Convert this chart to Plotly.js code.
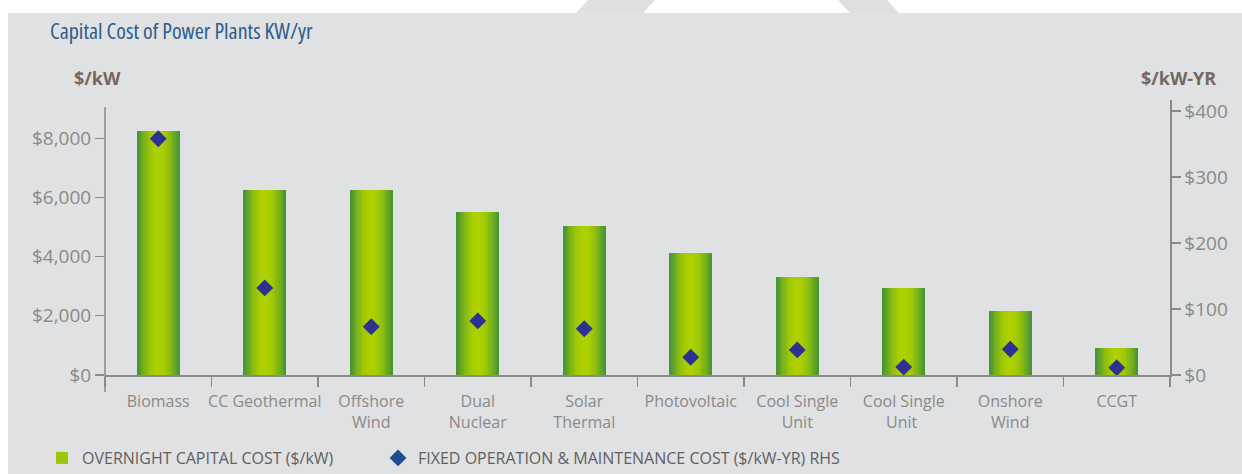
<!DOCTYPE html>
<html>
<head>
<meta charset="utf-8">
<script src="https://cdn.plot.ly/plotly-3.0.1.min.js"></script>
<style>
  html, body { margin: 0; padding: 0; background: #ffffff; width: 1242px; height: 474px; overflow: hidden; }
  #deco { position: absolute; left: 0; top: 0; }
  #chart { position: absolute; left: 8px; top: 13px; width: 1234px; height: 461px; }
  #chart .gtitle { font-stretch: 75% !important; }
</style>
</head>
<body>
<svg id="deco" width="1242" height="14">
  <polygon points="576,13 588,0 655,0 643,13" fill="#dedfe1"/>
  <polygon points="850,13 838,0 887,0 899,13" fill="#dedfe1"/>
</svg>
<div id="chart"></div>
<script>
// ---- data ----
const categories = ["Biomass", "CC Geothermal", "Offshore<br>Wind", "Dual<br>Nuclear", "Solar<br>Thermal",
                    "Photovoltaic", "Cool Single<br>Unit", "Cool Single<br>Unit ", "Onshore<br>Wind", "CCGT"];
const capitalCost = [8240, 6250, 6250, 5500, 5020, 4130, 3310, 2950, 2160, 910];   // $/kW (LHS)
const fixedOM     = [358, 132, 73, 82, 70, 27, 38, 12, 39, 11];                     // $/kW-yr (RHS)
const leftTicks  = [0, 2000, 4000, 6000, 8000];
const rightTicks = [0, 100, 200, 300, 400];
const seriesNames = ["OVERNIGHT CAPITAL COST ($/kW)", "FIXED OPERATION &amp; MAINTENANCE COST ($/kW-YR) RHS"];

// ---- layout geometry (pixels inside the chart div) ----
const W = 1234, H = 461;
const M = { l: 97, r: 72, t: 87, b: 99, autoexpand: false };
const plotW = W - M.l - M.r, plotH = H - M.t - M.b;
const px = x => (x - M.l) / plotW;       // pixel -> paper x
const py = y => (H - M.b - y) / plotH;   // pixel -> paper y

// horizontal gradient on bars, built from overlaid bars of decreasing width
const edge = [72, 150, 50], center = [172, 208, 0];
const N = 12, fullWidth = 0.40;
const traces = [];
for (let i = 0; i < N; i++) {
  const t = i / (N - 1);
  const e = Math.sin(t * Math.PI / 2);
  const c = edge.map((v, k) => Math.round(v + (center[k] - v) * e));
  traces.push({
    type: 'bar',
    x: categories,
    y: capitalCost,
    width: fullWidth * (1 - i / N),
    marker: { color: `rgb(${c[0]},${c[1]},${c[2]})`, line: { width: 0 } },
    name: seriesNames[0],
    showlegend: i === Math.round(N * 0.6),
    legend: 'legend',
    hoverinfo: 'skip',
    yaxis: 'y'
  });
}
traces.push({
  type: 'scatter',
  mode: 'markers',
  x: categories,
  y: fixedOM,
  yaxis: 'y2',
  name: seriesNames[1],
  legend: 'legend2',
  marker: { symbol: 'diamond', size: 13, color: '#2e3192' },
  hoverinfo: 'skip'
});

const tickFontY = { family: 'Open Sans, sans-serif', size: 19, color: '#8a8a8a' };
const tickFontX = { family: 'Open Sans, sans-serif', size: 16, color: '#8a8a8a' };
const axisColor = '#8a8a8a';
const legendFont = { family: 'Open Sans, sans-serif', size: 16, color: '#5f6062' };

const layout = {
  width: W, height: H,
  margin: M,
  paper_bgcolor: '#e0e1e3',
  plot_bgcolor: 'rgba(0,0,0,0)',
  barmode: 'overlay',
  bargap: 0,
  title: {
    text: 'Capital Cost of Power Plants KW/yr',
    font: { family: 'Open Sans, sans-serif', size: 22, color: '#2d5d8c' },
    xref: 'container', yref: 'container',
    x: 42 / W, xanchor: 'left',
    y: 1 - 18 / H, yanchor: 'middle'
  },
  xaxis: {
    type: 'category',
    range: [-0.5, categories.length - 0.5],
    tickson: 'boundaries',
    tickangle: 0,
    ticks: 'outside', ticklen: 10, tickwidth: 1.3, tickcolor: axisColor,
    ticklabelstandoff: 11,
    showline: true, linecolor: axisColor, linewidth: 1.5,
    showgrid: false, zeroline: false,
    tickfont: tickFontX,
    fixedrange: true
  },
  yaxis: {
    range: [0, 9290],
    tickmode: 'array', tickvals: leftTicks,
    ticktext: leftTicks.map(v => '$' + v.toLocaleString('en-US')),
    ticks: 'outside', ticklen: 9, tickwidth: 1.3, tickcolor: axisColor,
    showline: false,
    showgrid: false, zeroline: false,
    tickfont: tickFontY,
    fixedrange: true
  },
  yaxis2: {
    overlaying: 'y', side: 'right',
    range: [0, 416.7],
    tickmode: 'array', tickvals: rightTicks,
    ticktext: rightTicks.map(v => '$' + v),
    ticks: 'outside', ticklen: 9, tickwidth: 1.3, tickcolor: axisColor,
    showline: true, linecolor: axisColor, linewidth: 1.5,
    showgrid: false, zeroline: false,
    tickfont: tickFontY,
    fixedrange: true
  },
  showlegend: true,
  legend: {
    x: px(34), xanchor: 'left',
    y: py(445), yanchor: 'middle',
    font: legendFont,
    bgcolor: 'rgba(0,0,0,0)'
  },
  legend2: {
    x: px(370), xanchor: 'left',
    y: py(445), yanchor: 'middle',
    font: legendFont,
    bgcolor: 'rgba(0,0,0,0)'
  },
  annotations: [
    { text: '<b>$/kW</b>', xref: 'paper', yref: 'paper', x: px(89), y: py(65),
      xanchor: 'center', yanchor: 'middle', showarrow: false,
      font: { family: 'Open Sans, sans-serif', size: 18, color: '#74695f' } },
    { text: '<b>$/kW-YR</b>', xref: 'paper', yref: 'paper', x: px(1170), y: py(65),
      xanchor: 'center', yanchor: 'middle', showarrow: false,
      font: { family: 'Open Sans, sans-serif', size: 18, color: '#74695f' } }
  ],
  shapes: [
    { type: 'line', xref: 'paper', yref: 'paper', x0: 0, x1: 0, y0: -17 / plotH, y1: py(94),
      line: { color: axisColor, width: 1.5 } },
    { type: 'line', xref: 'paper', yref: 'paper', x0: 1, x1: 1, y0: 0, y1: -9 / plotH,
      line: { color: axisColor, width: 1.5 } }
  ]
};

Plotly.newPlot('chart', traces, layout, { displayModeBar: false, staticPlot: true }).then(gd => {
  // legend diamond is a deeper blue in the reference
  gd.querySelectorAll('.legend2 .legendpoints path').forEach(p => { p.style.fill = '#1f4e8c'; });
});
</script>
</body>
</html>
